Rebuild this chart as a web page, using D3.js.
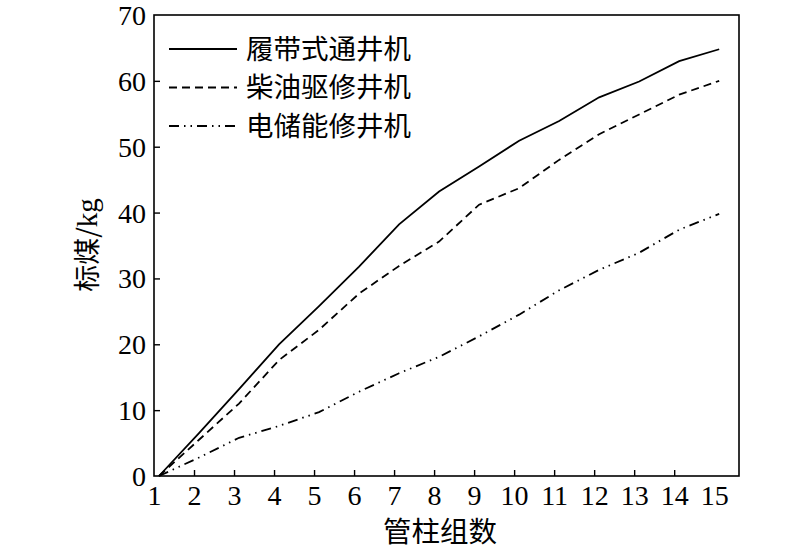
<!DOCTYPE html>
<html><head><meta charset="utf-8">
<script src="https://cdn.jsdelivr.net/npm/d3@7"></script>
<style>body{margin:0;background:#fff}</style>
</head><body>
<svg id="c" width="800" height="549"></svg>
<script>
const groups = [1,2,3,4,5,6,7,8,9,10,11,12,13,14,15];
const yTicks = [0,10,20,30,40,50,60,70];
const crawler = [0, 6.5, 13.2, 20, 25.8, 31.8, 38.2, 43.2, 47, 50.9, 53.9, 57.5, 59.9, 63, 64.8];
const diesel  = [0, 5.5, 11, 17.6, 22.2, 27.7, 31.9, 35.6, 41.2, 43.7, 48, 51.9, 54.9, 57.9, 60];
const electric= [0, 2.8, 5.8, 7.6, 9.7, 12.8, 15.6, 18.1, 21.2, 24.5, 28.2, 31.3, 33.9, 37.4, 39.8];
const seriesNames = ["履带式通井机","柴油驱修井机","电储能修井机"];
const xTitle = "管柱组数", yTitle = "标煤/kg";

const svg = d3.select("#c");
const L=154, R=739, T=15, B=476;
const x = d3.scaleLinear().domain([1,15.62]).range([L,R]);
const y = d3.scaleLinear().domain([0,70]).range([B,T]);
const xShift = 0.125;
const serif = '"Liberation Serif"';
const cjk = '"Noto Sans CJK SC"';

// frame
svg.append("rect").attr("x",L).attr("y",T).attr("width",R-L).attr("height",B-T)
  .attr("fill","none").attr("stroke","#000").attr("stroke-width",1.6);

// axes
const xa = svg.append("g").attr("transform",`translate(0,${B})`)
  .call(d3.axisBottom(x).tickValues(groups).tickSize(-6).tickPadding(11).tickFormat(d3.format("d")));
const ya = svg.append("g").attr("transform",`translate(${L},0)`)
  .call(d3.axisLeft(y).tickValues(yTicks).tickSize(-6).tickPadding(8));
[xa,ya].forEach(g=>{
  g.attr("font-family",null).attr("font-size",null).style("font-family",serif).style("font-size","28px");
  g.select(".domain").remove();
  g.selectAll("line").attr("stroke","#000").attr("stroke-width",1.4);
  g.selectAll("text").style("font-family",serif).style("font-size","28px").attr("fill","#000");
});
xa.selectAll(".tick").filter(d=>d===1||d===15).select("line").remove();
ya.selectAll(".tick").filter(d=>d===0||d===70).select("line").remove();
ya.selectAll("text").attr("dy","0.34em");
xa.selectAll("text").attr("dy","0.64em");

const dashes = [null, "8,5", "10,5,1.5,5,1.5,5"];
const data = [crawler, diesel, electric];
const line = d3.line().x((d,i)=>x(groups[i]+xShift)).y(d=>y(d));
data.forEach((s,k)=>{
  svg.append("path").datum(s).attr("d",line).attr("fill","none")
    .attr("stroke","#000").attr("stroke-width",1.8)
    .attr("stroke-dasharray",dashes[k]);
});

// legend
seriesNames.forEach((n,k)=>{
  const yy = 49 + k*38.5;
  svg.append("line").attr("x1",169).attr("x2",237).attr("y1",yy).attr("y2",yy)
    .attr("stroke","#000").attr("stroke-width",1.8).attr("stroke-dasharray",dashes[k]);
  svg.append("text").attr("x",246).attr("y",yy).attr("dy","0.36em")
    .style("font-family",cjk).style("font-size","27.5px").attr("fill","#000").text(n);
});

// titles
svg.append("text").attr("x",440).attr("y",542).attr("text-anchor","middle")
  .style("font-family",cjk).style("font-size","28.5px").attr("fill","#000").text(xTitle);
const yt = svg.append("text").attr("transform","translate(97,245) rotate(-90)").attr("text-anchor","middle")
  .style("font-family",cjk).style("font-size","27px").attr("fill","#000");
yt.append("tspan").text("标煤/");
yt.append("tspan").style("font-family",serif).style("font-size","29px").text("kg");
</script>
</body></html>
